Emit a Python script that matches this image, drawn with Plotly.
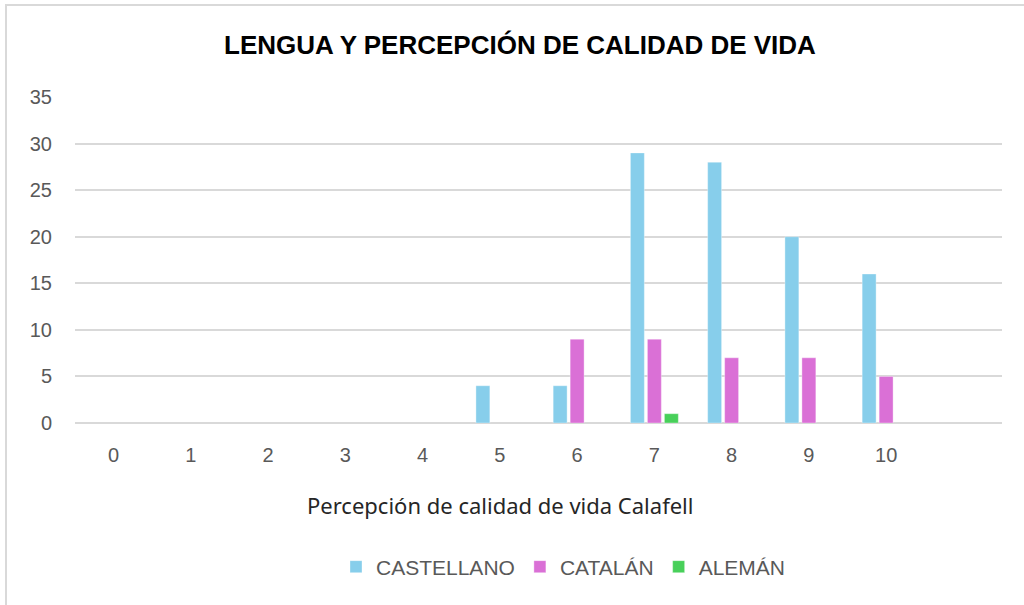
import plotly.graph_objects as go

categories = ["0", "1", "2", "3", "4", "5", "6", "7", "8", "9", "10", " "]
castellano = [None, None, None, None, None, 4, 4, 29, 28, 20, 16, None]
catalan = [None, None, None, None, None, None, 9, 9, 7, 7, 5, None]
aleman = [None, None, None, None, None, None, None, 1, None, None, None, None]

series = [
    ("CASTELLANO", castellano, "#87CEEB"),
    ("CATALÁN", catalan, "#DA70D6"),
    ("ALEMÁN", aleman, "#48D05A"),
]

fig = go.Figure()
for name, vals, color in series:
    fig.add_trace(go.Bar(
        x=categories, y=vals, name=name,
        marker=dict(color=color, line=dict(color="rgba(255,255,255,0.35)", width=1)),
    ))

fig.update_layout(
    width=1024, height=605,
    margin=dict(l=75, r=22, t=97, b=182),
    paper_bgcolor="white", plot_bgcolor="white",
    barmode="group", bargap=0.34, bargroupgap=0.18,
    title=dict(
        text="<b>LENGUA Y PERCEPCIÓN DE CALIDAD DE VIDA</b>",
        x=(520 - 75) / 927, xanchor="center", xref="paper",
        y=1 - 45 / 605, yanchor="middle",
        font=dict(family="Liberation Sans Narrow, Arial Narrow, Liberation Sans, sans-serif", size=26, color="#000000"),
    ),
    showlegend=True,
    legend=dict(
        orientation="h", x=(563 - 75) / 927, xanchor="center", y=(423 - 567) / 326, yanchor="middle",
        font=dict(family="Liberation Sans, Arial, sans-serif", size=21, color="#595959"),
        itemwidth=30, tracegroupgap=0,
    ),
    font=dict(family="Liberation Sans, Arial, sans-serif", size=20, color="#595959"),
)

fig.update_xaxes(
    type="category", categoryorder="array", categoryarray=categories,
    showgrid=False, showline=False, ticks="",
    tickfont=dict(size=20, color="#595959"),
    ticklabelstandoff=18,
)
fig.update_yaxes(
    range=[0, 35], dtick=5, showgrid=True, gridcolor="#D9D9D9", gridwidth=2,
    zeroline=True, zerolinecolor="#D9D9D9", zerolinewidth=2,
    showline=False, ticks="",
    tickfont=dict(size=20, color="#595959"),
    ticklabelstandoff=22,
)

fig.add_annotation(
    text="Percepción de calidad de vida Calafell",
    xref="paper", yref="paper", x=(500 - 75) / 927, y=(423 - 505) / 326,
    xanchor="center", yanchor="middle", showarrow=False,
    font=dict(family="Noto Sans, sans-serif", size=22, color="#262626"),
)

# chart frame (partial border as in the screenshot)
fig.add_shape(type="line", xref="paper", yref="paper",
              x0=-70 / 927, x1=1.03, y0=(423 - 5) / 326, y1=(423 - 5) / 326,
              line=dict(color="#D9D9D9", width=2))
fig.add_shape(type="line", xref="paper", yref="paper",
              x0=-69 / 927, x1=-69 / 927, y0=(423 - 4) / 326, y1=(423 - 610) / 326,
              line=dict(color="#D9D9D9", width=2))

fig.write_html("out.html", post_script="document.body.style.margin='0';",
               config={"displayModeBar": False})
